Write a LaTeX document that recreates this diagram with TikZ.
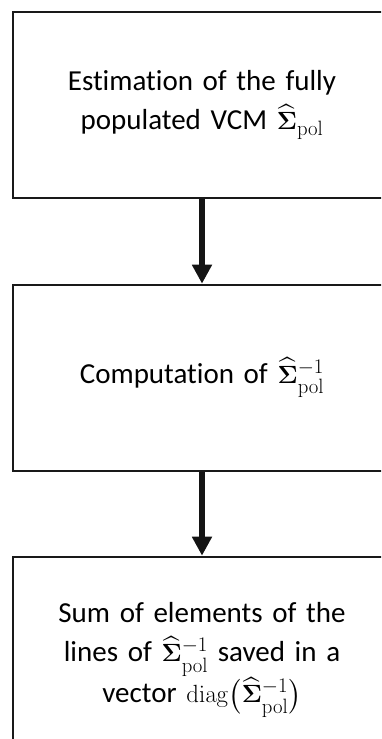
\documentclass[tikz,border=0pt]{standalone}
\usepackage{amsmath,amssymb,bm}
\usepackage[no-math]{fontspec}
\setmainfont[Ligatures=NoCommon]{Carlito}
\usetikzlibrary{arrows.meta}
\newcommand{\SigHat}{\widehat{\bm{\Sigma}}}
\tikzset{
  stepbox/.style={draw=black!90, line width=2.6pt, minimum width=378pt, text width=340pt, align=center, inner sep=0pt, font=\fontsize{29}{39}\selectfont},
  flow/.style={line width=5.5pt, draw=black!92, -{Triangle[length=19pt,width=19pt]}}
}
\begin{document}
\begin{tikzpicture}[x=1pt,y=1pt]
\useasboundingbox (0,0) rectangle (381,739);
\clip (0,0) rectangle (381,739);
\node[stepbox, minimum height=186pt] (b1) at (202,634) {Estimation of the fully\\populated VCM $\SigHat_{\mathrm{pol}}$};
\node[stepbox, minimum height=186pt] (b2) at (202,361) {Computation of $\SigHat^{-1}_{\mathrm{pol}}$};
\node[stepbox, minimum height=206pt] (b3) at (202,79) {Sum of elements of the\\lines of $\SigHat^{-1}_{\mathrm{pol}}$ saved in a\\vector $\mathrm{diag}\bigl(\SigHat^{-1}_{\mathrm{pol}}\bigr)$};
\draw[flow] (b1.south) -- (b2.north);
\draw[flow] (b2.south) -- (b3.north);
\end{tikzpicture}
\end{document}
